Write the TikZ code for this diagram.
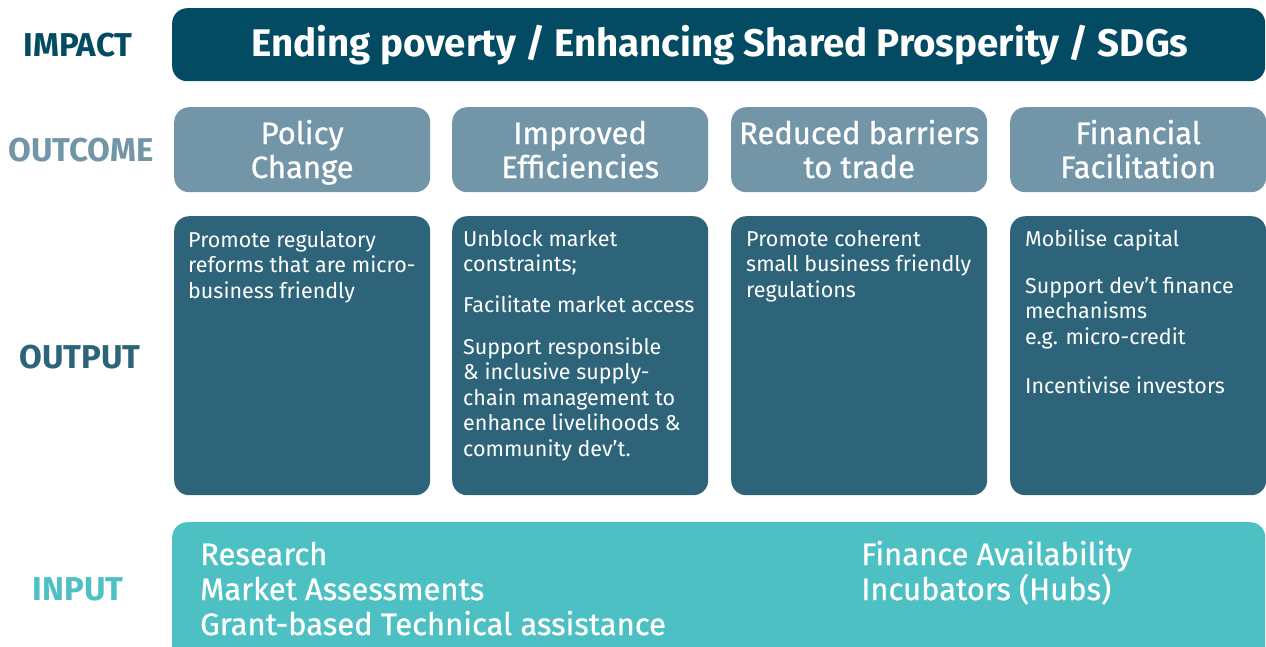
\documentclass[tikz,border=0pt]{standalone}
\usepackage{fontspec}
\setmainfont{Fira Sans}
\newfontfamily\medfont{Fira Sans}[FakeBold=0.8]
\definecolor{impactc}{HTML}{024B62}
\definecolor{outcomec}{HTML}{7395A8}
\definecolor{outputc}{HTML}{2D6479}
\definecolor{inputc}{HTML}{4DC0C3}
\tikzset{
  panel/.style={rounded corners=15pt, inner sep=0pt, anchor=north west, draw=none},
  rowlabel/.style={font=\bfseries\fontsize{33}{36}\selectfont, anchor=base, inner sep=0pt},
  headtxt/.style={font=\bfseries\fontsize{38.5}{40}\selectfont, text=white, anchor=base, inner sep=0pt},
  outtxt/.style={font=\medfont\fontsize{31}{34}\selectfont, text=white, align=center, anchor=base, inner sep=0pt},
  bodytxt/.style={font=\fontsize{21.5}{25.5}\selectfont, text=white, align=left, anchor=base west, inner sep=0pt},
  intxt/.style={font=\medfont\fontsize{31}{35}\selectfont, text=white, align=left, anchor=base west, inner sep=0pt},
}
\begin{document}
\begin{tikzpicture}[x=1pt,y=-1pt]
\useasboundingbox (0,0) rectangle (1266,646);
\clip (0,0) rectangle (1266,646);
% row labels
\node[rowlabel, text=impactc] (limpact) at (78,56) {IMPACT};
\node[rowlabel, text=outcomec] (loutcome) at (81,161) {OUTCOME};
\node[rowlabel, text=outputc] (loutput) at (80,368) {OUTPUT};
\node[rowlabel, text=inputc] (linput) at (78,600) {INPUT};
% impact
\node[panel, fill=impactc, minimum width=1093pt, minimum height=73pt] (impact) at (172,8) {};
\node[headtxt] (impacttxt) at (720,56) {Ending poverty / Enhancing Shared Prosperity / SDGs};
% outcome and output boxes
\foreach \i/\x in {1/174,2/452,3/731,4/1010}{
  \node[panel, fill=outcomec, minimum width=256pt, minimum height=85pt] (oc\i) at (\x,107) {};
  \node[panel, fill=outputc, minimum width=256pt, minimum height=279pt] (op\i) at (\x,216) {};
}
% outcome texts (anchor = baseline of last line)
\node[outtxt] (oct1) at (oc1.center |- 0,178) {Policy\\Change};
\node[outtxt] (oct2) at (oc2.center |- 0,178) {Improved\\Efficiencies};
\node[outtxt] (oct3) at (oc3.center |- 0,178) {Reduced barriers\\to trade};
\node[outtxt] (oct4) at (oc4.center |- 0,178) {Financial\\Facilitation};
% output texts (anchor = baseline of last line)
\node[bodytxt] (b1) at (188,298) {Promote regulatory\\reforms that are micro-\\business friendly};
\node[bodytxt] (b2a) at (463,271.5) {Unblock market\\constraints;};
\node[bodytxt] (b2b) at (463,312) {Facilitate market access};
\node[bodytxt] (b2c) at (463,456) {Support responsible\\\& inclusive supply-\\chain management to\\enhance livelihoods \&\\community dev’t.};
\node[bodytxt] (b3) at (746,297) {Promote coherent\\small business friendly\\regulations};
\node[bodytxt] (b4a) at (1025,246) {Mobilise capital};
\node[bodytxt] (b4b) at (1025,344) {Support dev’t finance\\mechanisms\\e.g. micro-credit};
\node[bodytxt] (b4c) at (1025,393) {Incentivise investors};
% input
\node[panel, fill=inputc, minimum width=1093pt, minimum height=150pt] (inp) at (172,522) {};
\node[intxt] (in1) at (200,635) {Research\\Market Assessments\\Grant-based Technical assistance};
\node[intxt] (in2) at (861,600) {Finance Availability\\Incubators (Hubs)};
\end{tikzpicture}
\end{document}
